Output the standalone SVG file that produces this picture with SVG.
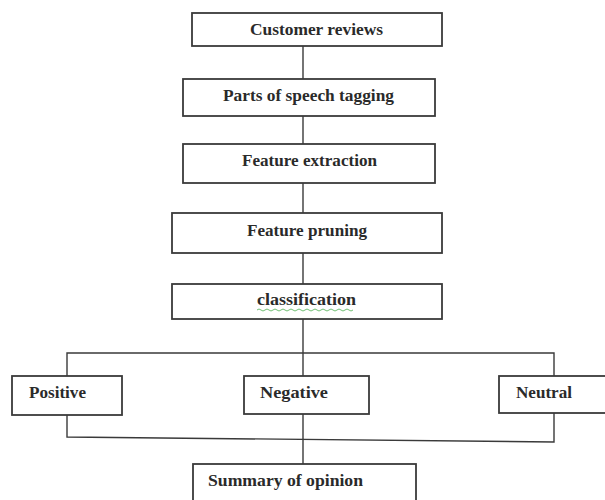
<svg xmlns="http://www.w3.org/2000/svg" width="605" height="500" viewBox="0 0 605 500">
<style>
.box{fill:#fff;stroke:#3a3a3a;stroke-width:1.8}
.lbl{font-family:"Liberation Serif","Times New Roman",serif;font-size:16.5px;font-weight:bold;fill:#2a2a2a}
.con{fill:none;stroke:#3a3a3a;stroke-width:1.4}
</style>
<rect width="605" height="500" fill="#fff"/>
<g id="connectors">
<line class="con" x1="303" y1="46" x2="303" y2="79"/>
<line class="con" x1="303" y1="116" x2="303" y2="144"/>
<line class="con" x1="303" y1="183" x2="303" y2="213"/>
<line class="con" x1="303" y1="253" x2="303" y2="284"/>
<line class="con" x1="303" y1="319" x2="303" y2="376"/>
<line class="con" x1="303" y1="414" x2="303" y2="464"/>
<polyline class="con" points="67,376 67,353 554,353 554,376"/>
<polyline class="con" points="67,415 67,437 554,442 554,412"/>
</g>
<g id="customer-reviews">
<rect class="box" x="192" y="13" width="250" height="33"/>
<text class="lbl" x="250" y="35" textLength="133" lengthAdjust="spacingAndGlyphs">Customer reviews</text>
</g>
<g id="pos-tagging">
<rect class="box" x="183" y="79" width="252" height="37"/>
<text class="lbl" x="223" y="101" textLength="171" lengthAdjust="spacingAndGlyphs">Parts of speech tagging</text>
</g>
<g id="feature-extraction">
<rect class="box" x="183" y="144" width="252" height="39"/>
<text class="lbl" x="242" y="166" textLength="135" lengthAdjust="spacingAndGlyphs">Feature extraction</text>
</g>
<g id="feature-pruning">
<rect class="box" x="172" y="213" width="270" height="40"/>
<text class="lbl" x="247" y="236" textLength="120" lengthAdjust="spacingAndGlyphs">Feature pruning</text>
</g>
<g id="classification">
<rect class="box" x="172" y="284" width="270" height="35"/>
<text class="lbl" x="257" y="305" textLength="99" lengthAdjust="spacingAndGlyphs">classification</text>
<path d="M257,310 q2,-2 4,0 t4,0 t4,0 t4,0 t4,0 t4,0 t4,0 t4,0 t4,0 t4,0 t4,0 t4,0 t4,0 t4,0 t4,0 t4,0 t4,0 t4,0 t4,0 t4,0 t4,0 t4,0 t4,0 t4,0" fill="none" stroke="#4caf50" stroke-width="0.8"/>
</g>
<g id="positive">
<rect class="box" x="12" y="376" width="110" height="39"/>
<text class="lbl" x="29" y="398" textLength="57" lengthAdjust="spacingAndGlyphs">Positive</text>
</g>
<g id="negative">
<rect class="box" x="244" y="376" width="125" height="38"/>
<text class="lbl" x="260" y="398" textLength="68" lengthAdjust="spacingAndGlyphs">Negative</text>
</g>
<g id="neutral">
<rect class="box" x="499" y="376" width="112" height="37"/>
<text class="lbl" x="516" y="398" textLength="56" lengthAdjust="spacingAndGlyphs">Neutral</text>
</g>
<g id="summary">
<rect class="box" x="193" y="464" width="223" height="50"/>
<text class="lbl" x="208" y="486" textLength="155" lengthAdjust="spacingAndGlyphs">Summary of opinion</text>
</g>
</svg>
